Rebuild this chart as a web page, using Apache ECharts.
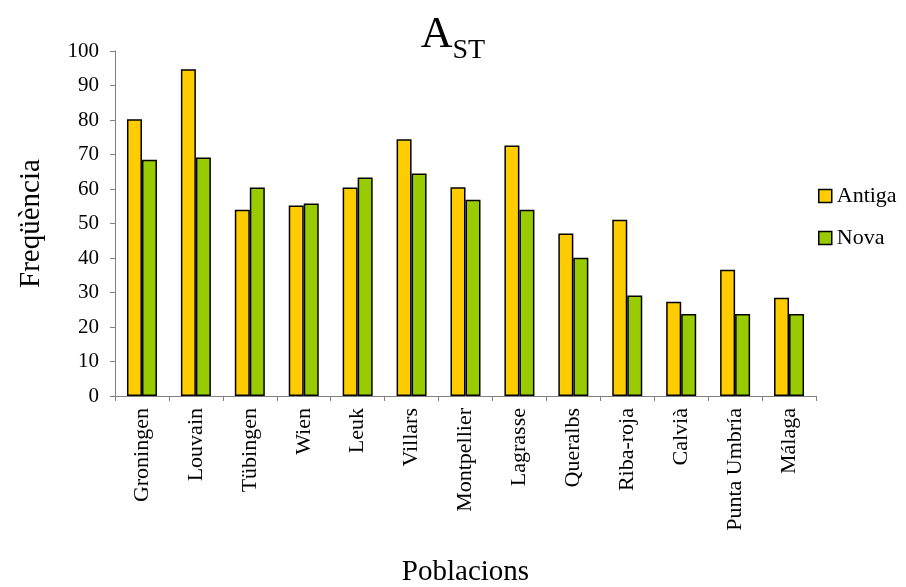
<!DOCTYPE html>
<html>
<head>
<meta charset="utf-8">
<script src="https://cdn.jsdelivr.net/npm/echarts@6/dist/echarts.min.js"></script>
<style>
  html, body { margin: 0; padding: 0; background: #fff; }
  #main { width: 906px; height: 587px; }
</style>
</head>
<body>
<div id="main"></div>
<script>
const poblacions = ['Groningen', 'Louvain', 'Tübingen', 'Wien', 'Leuk', 'Villars', 'Montpellier',
    'Lagrasse', 'Queralbs', 'Riba-roja', 'Calvià', 'Punta Umbría', 'Málaga'];
const antiga = [80.2, 94.7, 54.0, 55.2, 60.4, 74.4, 60.5, 72.6, 47.1, 51.1, 27.3, 36.6, 28.5];
const nova = [68.5, 69.1, 60.4, 55.8, 63.3, 64.5, 56.9, 54.0, 40.1, 29.1, 23.8, 23.8, 23.8];

const serif = '"Liberation Serif", "Times New Roman", serif';

var chart = echarts.init(document.getElementById('main'));

var option = {
    backgroundColor: '#fff',
    textStyle: { fontFamily: serif, color: '#000' },
    title: {
        text: '{a|A}{s|ST}',
        left: 'center',
        top: 8,
        textStyle: {
            fontFamily: serif,
            fontWeight: 'normal',
            color: '#000',
            rich: {
                a: { fontFamily: serif, fontSize: 44, color: '#000', verticalAlign: 'bottom', padding: [0, 0, 8, 0] },
                s: { fontFamily: serif, fontSize: 28, color: '#000', verticalAlign: 'bottom' }
            }
        }
    },
    legend: {
        orient: 'vertical',
        left: 813,
        top: 180,
        itemWidth: 13,
        itemHeight: 13,
        itemGap: 20,
        textStyle: { fontFamily: serif, fontSize: 22, color: '#000' },
        data: [
            { name: 'Antiga', icon: 'rect', itemStyle: { borderColor: '#000', borderWidth: 1.5 } },
            { name: 'Nova', icon: 'rect', itemStyle: { borderColor: '#000', borderWidth: 1.5 } }
        ]
    },
    grid: { left: 115, right: 90, top: 51, bottom: 191, containLabel: false, outerBoundsMode: 'none' },
    xAxis: {
        type: 'category',
        data: poblacions,
        name: 'Poblacions',
        nameLocation: 'middle',
        nameGap: 162,
        nameTextStyle: { fontFamily: serif, fontSize: 29, color: '#000' },
        axisLine: { lineStyle: { color: '#808080', width: 1 } },
        axisTick: { show: true, length: 5, lineStyle: { color: '#808080' } },
        axisLabel: {
            rotate: 90,
            interval: 0,
            margin: 12,
            fontFamily: serif,
            fontSize: 22,
            color: '#000'
        }
    },
    yAxis: {
        type: 'value',
        min: 0,
        max: 100,
        interval: 10,
        name: 'Freqüència',
        nameLocation: 'middle',
        nameGap: 69,
        nameTextStyle: { fontFamily: serif, fontSize: 29, color: '#000' },
        splitLine: { show: false },
        axisLine: { show: true, lineStyle: { color: '#808080', width: 1 } },
        axisTick: { show: true, length: 5, lineStyle: { color: '#808080' } },
        axisLabel: { fontFamily: serif, fontSize: 21, color: '#000', margin: 16 }
    },
    series: [
        {
            name: 'Antiga',
            type: 'bar',
            data: antiga,
            barWidth: 15,
            barGap: '0%',
            itemStyle: { color: '#FFCC00', borderColor: '#000', borderWidth: 1.5 }
        },
        {
            name: 'Nova',
            type: 'bar',
            data: nova,
            barWidth: 15,
            barGap: '0%',
            itemStyle: { color: '#99CC00', borderColor: '#000', borderWidth: 1.5 }
        }
    ]
};

chart.setOption(option);
</script>
</body>
</html>
